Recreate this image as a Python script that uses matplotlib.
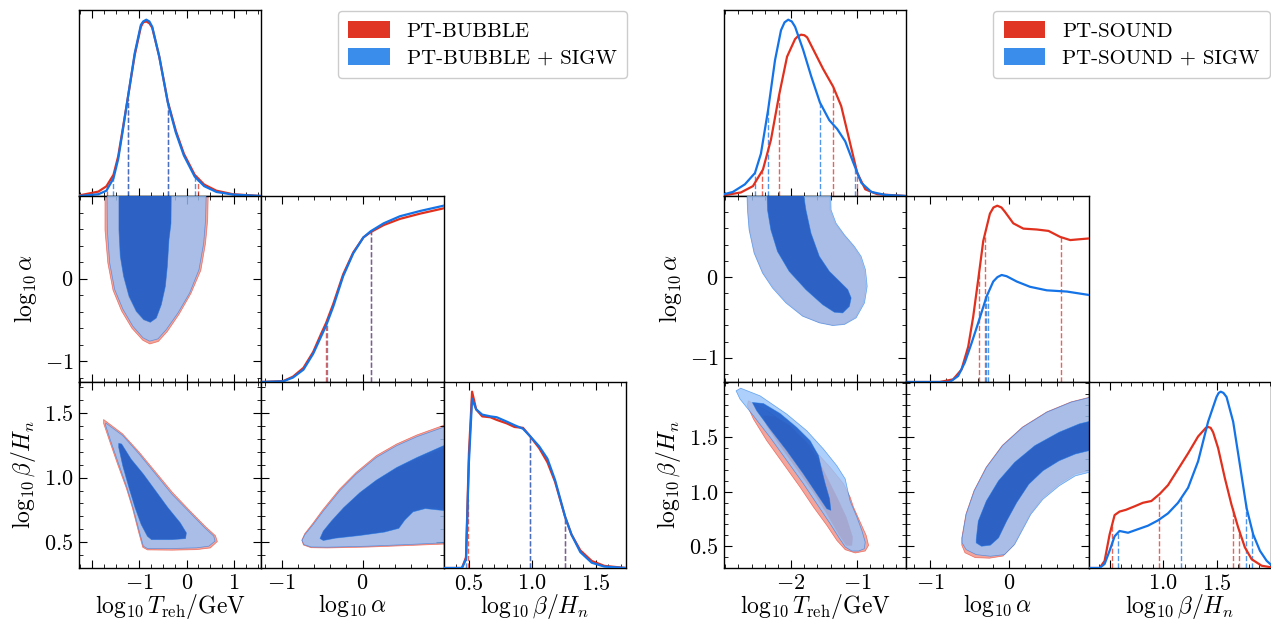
import numpy as np
import matplotlib
matplotlib.use("Agg")
import matplotlib.pyplot as plt
from matplotlib.patches import Patch
from matplotlib.ticker import FixedLocator, MultipleLocator, FixedFormatter, NullFormatter, NullLocator
import warnings
warnings.filterwarnings("ignore")

plt.rcParams.update({
    "font.family": "serif",
    "font.serif": ["cmr10", "DejaVu Serif"],
    "mathtext.fontset": "cm",
    "axes.formatter.use_mathtext": True,
    "axes.linewidth": 1.0,
})

# ---------------- DATA : PT-BUBBLE (left) ----------------
bub_T_x = [-2.28, -1.87, -1.70, -1.55, -1.45, -1.36, -1.25, -1.10, -0.97, -0.92, -0.855, -0.79, -0.73,
           -0.58, -0.40, -0.23, -0.06, 0.17, 0.37, 0.63, 0.98, 1.58]
bub_T_blue = [0.0, 0.01, 0.03, 0.10, 0.21, 0.36, 0.55, 0.81, 0.97, 0.99, 1.0, 0.99, 0.96, 0.79, 0.53,
              0.36, 0.23, 0.11, 0.056, 0.023, 0.008, 0.0]
bub_T_red = [0.003, 0.025, 0.055, 0.12, 0.225, 0.37, 0.55, 0.80, 0.96, 0.985, 0.99, 0.98, 0.955, 0.79,
             0.535, 0.37, 0.24, 0.12, 0.065, 0.03, 0.01, 0.0]
bub_T_dash_red = [-1.68, -1.25, -0.40, 0.24]
bub_T_dash_blue = [-1.55, -1.25, -0.40, 0.17]

bub_a_x = [-1.25, -0.98, -0.86, -0.73, -0.61, -0.51, -0.45, -0.36, -0.24, -0.115, 0.01,
           0.10, 0.26, 0.46, 0.71, 1.0]
bub_a_blue = [0.0, 0.004, 0.025, 0.07, 0.16, 0.26, 0.32, 0.43, 0.60, 0.73, 0.82, 0.855,
              0.90, 0.94, 0.97, 1.0]
bub_a_red = [0.0, 0.005, 0.03, 0.08, 0.17, 0.275, 0.335, 0.445, 0.61, 0.735, 0.82, 0.85,
             0.89, 0.925, 0.955, 0.985]
bub_a_dash_red = [-0.45, 0.10]
bub_a_dash_blue = [-0.44, 0.105]

bub_b_x = [0.30, 0.445, 0.477, 0.50, 0.525, 0.557, 0.605, 0.67, 0.72, 0.80, 0.86, 0.927,
           0.98, 1.055, 1.12, 1.18, 1.26, 1.31, 1.38, 1.47, 1.57, 1.74]
bub_b_blue = [0.0, 0.0, 0.05, 0.6, 0.96, 0.90, 0.87, 0.86, 0.855, 0.83, 0.81, 0.79, 0.75,
              0.69, 0.62, 0.50, 0.29, 0.19, 0.09, 0.03, 0.008, 0.0]
bub_b_red = [0.0, 0.0, 0.06, 0.65, 1.0, 0.90, 0.86, 0.855, 0.84, 0.82, 0.80, 0.795, 0.75,
             0.68, 0.60, 0.49, 0.29, 0.19, 0.10, 0.04, 0.012, 0.0]
bub_b_dash_red = [0.49, 0.98, 1.26]
bub_b_dash_blue = [0.48, 0.98, 1.26]

# 2D credible regions (x, y) : T-alpha
bub_Ta_red95 = [(-1.73, 1.1), (-1.73, 0.59), (-1.67, 0.19), (-1.56, -0.14), (-1.38, -0.39),
                (-1.16, -0.60), (-0.93, -0.745), (-0.78, -0.79), (-0.60, -0.76), (-0.41, -0.64),
                (-0.16, -0.43), (0.09, -0.18), (0.30, 0.10), (0.40, 0.43), (0.445, 0.71), (0.46, 1.1)]
bub_Ta_red68 = [(-1.44, 1.1), (-1.44, 0.59), (-1.41, 0.27), (-1.34, 0.03), (-1.225, -0.22),
                (-1.07, -0.40), (-0.91, -0.50), (-0.77, -0.53), (-0.64, -0.48), (-0.535, -0.31),
                (-0.45, -0.09), (-0.41, 0.15), (-0.38, 0.47), (-0.34, 0.67), (-0.33, 1.1)]
bub_Ta_blue95 = [(-1.687, 1.1), (-1.68, 0.59), (-1.63, 0.19), (-1.525, -0.13), (-1.35, -0.37),
                 (-1.14, -0.575), (-0.925, -0.715), (-0.784, -0.756), (-0.607, -0.728),
                 (-0.431, -0.615), (-0.184, -0.414), (0.063, -0.173), (0.26, 0.108),
                 (0.36, 0.43), (0.40, 0.71), (0.416, 1.1)]
bub_Ta_blue68 = [(-1.433, 1.1), (-1.433, 0.59), (-1.405, 0.27), (-1.334, 0.028), (-1.22, -0.213),
                 (-1.066, -0.394), (-0.911, -0.495), (-0.77, -0.527), (-0.643, -0.475),
                 (-0.537, -0.314), (-0.452, -0.093), (-0.41, 0.148), (-0.375, 0.47),
                 (-0.332, 0.67), (-0.325, 1.1)]
# T-beta
bub_Tb_red95 = [(-1.76, 1.45), (-1.36, 1.34), (-1.0, 1.195), (-0.65, 1.04), (-0.30, 0.885),
                (0.05, 0.75), (0.40, 0.62), (0.61, 0.55), (0.65, 0.505), (0.50, 0.455),
                (0.21, 0.442), (-0.31, 0.438), (-0.83, 0.44), (-0.93, 0.46), (-1.02, 0.58),
                (-1.15, 0.765), (-1.28, 0.92), (-1.46, 1.10), (-1.64, 1.29), (-1.76, 1.42)]
bub_Tb_red68 = [(-1.44, 1.262), (-1.375, 1.257), (-1.175, 1.14), (-0.915, 1.025), (-0.655, 0.895),
                (-0.395, 0.765), (-0.135, 0.648), (-0.005, 0.57), (-0.025, 0.527), (-0.31, 0.519),
                (-0.745, 0.519), (-0.835, 0.545), (-0.965, 0.636), (-1.095, 0.766),
                (-1.225, 0.922), (-1.355, 1.09), (-1.44, 1.232)]
bub_Tb_blue95 = [(-1.716, 1.423), (-1.352, 1.325), (-1.005, 1.182), (-0.658, 1.027),
                 (-0.311, 0.871), (0.036, 0.741), (0.383, 0.611), (0.574, 0.547), (0.60, 0.508),
                 (0.47, 0.469), (0.21, 0.456), (-0.311, 0.451), (-0.831, 0.451), (-0.918, 0.469),
                 (-1.005, 0.585), (-1.135, 0.767), (-1.265, 0.923), (-1.439, 1.104),
                 (-1.612, 1.286), (-1.716, 1.403)]
bub_Tb_blue68 = [(-1.439, 1.265), (-1.378, 1.26), (-1.178, 1.143), (-0.918, 1.027), (-0.658, 0.897),
                 (-0.398, 0.767), (-0.137, 0.65), (-0.007, 0.572), (-0.025, 0.528), (-0.311, 0.52),
                 (-0.745, 0.52), (-0.831, 0.546), (-0.962, 0.637), (-1.092, 0.767),
                 (-1.222, 0.923), (-1.352, 1.091), (-1.439, 1.234)]
# alpha-beta
bub_ab_red95 = [(-0.75, 0.515), (-0.715, 0.565), (-0.615, 0.645), (-0.49, 0.752), (-0.285, 0.91),
                (-0.08, 1.04), (0.17, 1.17), (0.42, 1.26), (0.67, 1.33), (1.0, 1.405), (1.1, 1.415),
                (1.1, 0.47), (1.0, 0.485), (0.572, 0.474), (0.069, 0.462), (-0.434, 0.455),
                (-0.636, 0.457), (-0.73, 0.478)]
bub_ab_red68 = [(-0.525, 0.53), (-0.485, 0.587), (-0.384, 0.665), (-0.233, 0.768), (-0.032, 0.882),
                (0.17, 0.975), (0.421, 1.07), (0.673, 1.14), (1.0, 1.225), (1.1, 1.23),
                (1.1, 0.75), (1.0, 0.76), (0.774, 0.772), (0.623, 0.745), (0.522, 0.68),
                (0.447, 0.614), (0.27, 0.583), (-0.032, 0.556), (-0.334, 0.535), (-0.485, 0.517)]
bub_ab_blue95 = [(-0.747, 0.515), (-0.711, 0.559), (-0.61, 0.637), (-0.485, 0.741), (-0.283, 0.897),
                 (-0.082, 1.026), (0.17, 1.156), (0.421, 1.247), (0.673, 1.317), (1.0, 1.39),
                 (1.1, 1.40), (1.1, 0.48), (1.0, 0.495), (0.572, 0.482), (0.069, 0.469),
                 (-0.434, 0.461), (-0.636, 0.463), (-0.726, 0.482)]
bub_ab_blue68 = [(-0.525, 0.528), (-0.485, 0.585), (-0.384, 0.663), (-0.233, 0.767), (-0.032, 0.884),
                 (0.17, 0.98), (0.421, 1.078), (0.673, 1.156), (1.0, 1.247), (1.1, 1.25),
                 (1.1, 0.74), (1.0, 0.745), (0.774, 0.76), (0.623, 0.735), (0.522, 0.672),
                 (0.447, 0.607), (0.27, 0.578), (-0.032, 0.552), (-0.334, 0.531), (-0.485, 0.513)]

# ---------------- DATA : PT-SOUND (right) ----------------
snd_T_x_blue = [-3.02, -2.886, -2.703, -2.55, -2.459, -2.349, -2.245, -2.154, -2.10, -2.044, -1.99,
                -1.94, -1.818, -1.696, -1.562, -1.42, -1.30, -1.178, -1.056, -0.934, -0.781, -0.568, -0.25]
snd_T_blue = [0.01, 0.023, 0.066, 0.13, 0.24, 0.49, 0.77, 0.94, 0.985, 1.0, 0.99, 0.96, 0.83,
              0.68, 0.53, 0.43, 0.38, 0.31, 0.19, 0.075, 0.023, 0.006, 0.0]
snd_T_x_red = [-3.02, -2.764, -2.58, -2.428, -2.306, -2.184, -2.062, -1.94, -1.90, -1.849, -1.80,
               -1.757, -1.635, -1.513, -1.361, -1.239, -1.117, -0.995, -0.873, -0.69, -0.25]
snd_T_red = [0.004, 0.02, 0.056, 0.15, 0.32, 0.57, 0.79, 0.89, 0.905, 0.915, 0.912, 0.90, 0.81,
             0.72, 0.62, 0.51, 0.32, 0.13, 0.038, 0.01, 0.0]
snd_T_dash_red = [-2.44, -2.18, -1.36, -0.995]
snd_T_dash_blue = [-2.55, -2.35, -1.56, -1.03]

snd_a_x_red = [-1.3, -0.878, -0.709, -0.604, -0.519, -0.456, -0.393, -0.329, -0.245, -0.20, -0.152,
               -0.10, -0.055, 0.05, 0.177, 0.346, 0.494, 0.641, 0.768, 0.894, 1.0]
snd_a_red = [0.0, 0.0, 0.015, 0.07, 0.2, 0.37, 0.58, 0.80, 0.955, 0.99, 1.0, 0.99, 0.965, 0.90,
             0.87, 0.865, 0.857, 0.823, 0.805, 0.81, 0.814]
snd_a_x_blue = [-1.3, -0.751, -0.646, -0.562, -0.477, -0.393, -0.287, -0.203, -0.15, -0.097, -0.034,
                0.093, 0.261, 0.472, 0.726, 1.0]
snd_a_blue = [0.0, 0.0, 0.034, 0.11, 0.22, 0.335, 0.485, 0.57, 0.595, 0.607, 0.60, 0.57, 0.54,
              0.52, 0.513, 0.494]
snd_a_dash_red = [-0.384, -0.31, 0.65]
snd_a_dash_blue = [-0.29, -0.27]

snd_b_x_blue = [0.31, 0.403, 0.45, 0.497, 0.544, 0.59, 0.67, 0.763, 0.857, 0.951, 1.045, 1.139,
                1.233, 1.327, 1.421, 1.50, 1.52, 1.54, 1.565, 1.594, 1.656, 1.719, 1.782, 1.844,
                1.907, 1.97, 2.01]
snd_b_blue = [0.0, 0.0, 0.023, 0.098, 0.18, 0.21, 0.2, 0.22, 0.24, 0.27, 0.31, 0.37, 0.455,
              0.605, 0.83, 0.97, 0.993, 1.0, 0.993, 0.97, 0.83, 0.586, 0.34, 0.19, 0.098, 0.041, 0.019]
snd_b_x_red = [0.31, 0.403, 0.45, 0.497, 0.544, 0.59, 0.65, 0.732, 0.81, 0.889, 0.967, 1.045,
               1.139, 1.233, 1.327, 1.40, 1.421, 1.445, 1.468, 1.515, 1.578, 1.64, 1.703, 1.766,
               1.829, 1.923, 2.01]
snd_b_red = [0.0, 0.0, 0.04, 0.19, 0.30, 0.32, 0.33, 0.35, 0.37, 0.38, 0.42, 0.47, 0.56, 0.65,
             0.746, 0.795, 0.80, 0.795, 0.77, 0.68, 0.51, 0.36, 0.23, 0.117, 0.05, 0.013, 0.004]
snd_b_dash_red = [0.523, 0.958, 1.65, 1.71]
snd_b_dash_blue = [0.576, 1.171, 1.776, 1.835]

# T-alpha
snd_Ta_blue95 = [(-2.674, 1.1), (-1.40, 1.1), (-1.393, 0.828), (-1.317, 0.663), (-1.19, 0.52),
                 (-1.038, 0.376), (-0.936, 0.253), (-0.87, 0.088), (-0.844, -0.117), (-0.885, -0.322),
                 (-1.012, -0.507), (-1.19, -0.589), (-1.368, -0.602), (-1.571, -0.569),
                 (-1.825, -0.487), (-2.08, -0.322), (-2.283, -0.138), (-2.435, 0.047),
                 (-2.563, 0.294), (-2.639, 0.581), (-2.664, 0.828)]
snd_Ta_red95 = [(-2.664, 1.1), (-1.42, 1.1), (-1.41, 0.828), (-1.335, 0.663), (-1.205, 0.52),
                (-1.055, 0.376), (-0.955, 0.253), (-0.89, 0.088), (-0.865, -0.117), (-0.90, -0.315),
                (-1.02, -0.497), (-1.19, -0.58), (-1.368, -0.595), (-1.571, -0.562),
                (-1.82, -0.48), (-2.07, -0.315), (-2.27, -0.132), (-2.425, 0.05),
                (-2.553, 0.296), (-2.629, 0.582), (-2.654, 0.828)]
snd_Ta_blue68 = [(-2.369, 1.1), (-1.826, 1.1), (-1.775, 0.828), (-1.698, 0.54), (-1.571, 0.253),
                 (-1.419, 0.068), (-1.266, -0.055), (-1.139, -0.158), (-1.088, -0.261),
                 (-1.114, -0.364), (-1.216, -0.446), (-1.343, -0.437), (-1.521, -0.343),
                 (-1.775, -0.158), (-2.029, 0.068), (-2.207, 0.314), (-2.308, 0.581), (-2.359, 0.828)]
snd_Ta_red68 = [(-2.36, 1.1), (-1.835, 1.1), (-1.785, 0.828), (-1.708, 0.54), (-1.58, 0.253),
                (-1.428, 0.068), (-1.275, -0.05), (-1.15, -0.15), (-1.10, -0.255),
                (-1.124, -0.355), (-1.222, -0.435), (-1.343, -0.428), (-1.515, -0.335),
                (-1.765, -0.15), (-2.02, 0.075), (-2.198, 0.318), (-2.298, 0.583), (-2.349, 0.828)]
# T-beta
snd_Tb_blue95 = [(-2.837, 1.929), (-2.766, 1.953), (-2.472, 1.883), (-2.066, 1.715), (-1.762, 1.562),
                 (-1.509, 1.394), (-1.306, 1.241), (-1.178, 1.119), (-1.128, 0.982), (-1.103, 0.914),
                 (-1.001, 0.768), (-0.925, 0.645), (-0.874, 0.538), (-0.889, 0.477), (-0.975, 0.456),
                 (-1.077, 0.456), (-1.178, 0.493), (-1.28, 0.585), (-1.407, 0.707), (-1.61, 0.89),
                 (-1.813, 1.074), (-2.066, 1.288), (-2.32, 1.501), (-2.574, 1.70), (-2.777, 1.853)]
snd_Tb_red95 = [(-2.65, 1.837), (-2.32, 1.73), (-1.965, 1.562), (-1.661, 1.394), (-1.407, 1.226),
                (-1.204, 1.074), (-1.103, 0.952), (-1.052, 0.86), (-0.95, 0.722), (-0.859, 0.60),
                (-0.823, 0.508), (-0.874, 0.456), (-1.026, 0.438), (-1.178, 0.468), (-1.306, 0.554),
                (-1.458, 0.692), (-1.661, 0.86), (-1.864, 1.043), (-2.117, 1.257), (-2.371, 1.471),
                (-2.574, 1.67), (-2.665, 1.792)]
snd_Tb_blue68 = [(-2.589, 1.822), (-2.421, 1.812), (-2.167, 1.72), (-1.914, 1.592), (-1.711, 1.47),
                 (-1.584, 1.333), (-1.533, 1.196), (-1.482, 1.074), (-1.416, 0.936), (-1.396, 0.83),
                 (-1.457, 0.845), (-1.61, 0.982), (-1.813, 1.165), (-2.066, 1.379), (-2.32, 1.578),
                 (-2.523, 1.746)]
snd_Tb_red68 = [(-2.421, 1.70), (-2.244, 1.691), (-2.015, 1.608), (-1.787, 1.47), (-1.61, 1.318),
                (-1.457, 1.135), (-1.306, 0.952), (-1.163, 0.768), (-1.067, 0.585), (-1.077, 0.508),
                (-1.163, 0.508), (-1.28, 0.615), (-1.457, 0.799), (-1.661, 0.997), (-1.914, 1.211),
                (-2.167, 1.425), (-2.371, 1.608)]
# alpha-beta
snd_ab_blue95 = [(-0.596, 0.577), (-0.545, 0.793), (-0.443, 1.009), (-0.29, 1.224), (-0.086, 1.425),
                 (0.169, 1.594), (0.475, 1.733), (0.781, 1.825), (1.0, 1.865), (1.1, 1.87),
                 (1.1, 1.17), (1.0, 1.178), (0.832, 1.147), (0.628, 1.055), (0.424, 0.932),
                 (0.271, 0.793), (0.169, 0.654), (0.067, 0.516), (-0.061, 0.423), (-0.239, 0.408),
                 (-0.418, 0.423), (-0.545, 0.469), (-0.596, 0.531)]
snd_ab_red95 = [(-0.60, 0.577), (-0.548, 0.795), (-0.446, 1.011), (-0.293, 1.226), (-0.089, 1.427),
                (0.166, 1.596), (0.472, 1.735), (0.778, 1.827), (1.0, 1.868), (1.1, 1.873),
                (1.1, 1.19), (1.0, 1.195), (0.832, 1.165), (0.628, 1.072), (0.424, 0.948),
                (0.265, 0.80), (0.16, 0.655), (0.055, 0.51), (-0.08, 0.41), (-0.25, 0.39),
                (-0.43, 0.395), (-0.56, 0.44), (-0.60, 0.51)]
snd_ab_blue68 = [(-0.418, 0.562), (-0.392, 0.731), (-0.29, 0.916), (-0.137, 1.101), (0.067, 1.271),
                 (0.322, 1.425), (0.628, 1.548), (0.883, 1.625), (1.0, 1.646), (1.1, 1.65),
                 (1.1, 1.37), (1.0, 1.378), (0.832, 1.348), (0.628, 1.286), (0.424, 1.194),
                 (0.245, 1.07), (0.092, 0.901), (-0.035, 0.731), (-0.137, 0.577), (-0.239, 0.51),
                 (-0.351, 0.50), (-0.418, 0.531)]
snd_ab_red68 = [(-0.41, 0.57), (-0.385, 0.735), (-0.283, 0.918), (-0.13, 1.10), (0.072, 1.268),
                (0.327, 1.42), (0.63, 1.54), (0.883, 1.615), (1.0, 1.635), (1.1, 1.64),
                (1.1, 1.38), (1.0, 1.388), (0.832, 1.358), (0.628, 1.295), (0.424, 1.203),
                (0.25, 1.08), (0.098, 0.91), (-0.03, 0.74), (-0.13, 0.585), (-0.235, 0.52),
                (-0.345, 0.51), (-0.41, 0.54)]

bub_legend = ["PT-BUBBLE", "PT-BUBBLE + SIGW"]
snd_legend = ["PT-SOUND", "PT-SOUND + SIGW"]

param_labels = [r"$\log_{10}T_{\rm reh}/{\rm GeV}$", r"$\log_{10}\alpha$", r"$\log_{10}\beta/H_n$"]

bub_ranges = [(-2.28, 1.58), (-1.25, 1.0), (0.30, 1.74)]
snd_ranges = [(-3.02, -0.25), (-1.30, 1.0), (0.30, 2.01)]

bub_major = [[-2, -1, 0, 1], [-1, 0], [0.5, 1.0, 1.5]]
bub_xlab = [["", "$-1$", "$0$", "$1$"], ["$-1$", "$0$"], ["$0.5$", "$1.0$", "$1.5$"]]
bub_ylab = [None, ["$-1$", "$0$"], ["$0.5$", "$1.0$", "$1.5$"]]
bub_minor = [0.25, 0.2, 0.1]

snd_major = [[-2, -1], [-1, 0], [0.5, 1.0, 1.5]]
snd_xlab = [["$-2$", "$-1$"], ["$-1$", "$0$"], ["", "$1.0$", "$1.5$"]]
snd_ylab = [None, ["$-1$", "$0$"], ["$0.5$", "$1.0$", "$1.5$"]]
snd_minor = [0.2, 0.2, 0.1]

# ---------------- STYLE ----------------
RED_LINE = "#E0301E"
BLUE_LINE = "#1473E6"
RED95, RED68 = "#F3A59C", "#DD3B2C"
BLUE95, BLUE68 = "#97C4FA", "#1050C2"
LEG_RED, LEG_BLUE = "#E03424", "#3A8DEA"

W, H = 1271, 621
CW, RH = 182.3, 186.0
Y0 = 10.0

fig = plt.figure(figsize=(W / 100, H / 100), dpi=100)


def rect(x0, y0, w, h):
    return [x0 / W, 1 - (y0 + h) / H, w / W, h / H]


def style_axis(axis, major, labels, minor, show):
    axis.set_major_locator(FixedLocator(major))
    if show:
        axis.set_major_formatter(FixedFormatter(labels))
    else:
        axis.set_major_formatter(NullFormatter())
    axis.set_minor_locator(MultipleLocator(minor))


def corner(x0, ranges, major, xlab, ylab, minor, oned, twod, legend_labels, legend_right):
    for i in range(3):
        for j in range(i + 1):
            ax = fig.add_axes(rect(x0 + j * CW, Y0 + i * RH, CW, RH))
            ax.set_xlim(*ranges[j])
            style_axis(ax.xaxis, major[j], xlab[j], minor[j], i == 2)
            ax.tick_params(which="both", direction="in", top=True, right=True, labelsize=16)
            ax.tick_params(which="major", length=6, width=0.8, pad=4)
            ax.tick_params(which="minor", length=3, width=0.6)
            if i == j:
                xr, yr, xb, yb, dr, db = oned[i]
                ax.set_ylim(0, 1.055)
                ax.yaxis.set_major_locator(NullLocator())
                ax.yaxis.set_minor_locator(NullLocator())
                ax.vlines(dr, 0, np.interp(dr, xr, yr), colors=RED_LINE, linestyles="--",
                          lw=1.0, alpha=0.75, zorder=2)
                ax.vlines(db, 0, np.interp(db, xb, yb), colors=BLUE_LINE, linestyles="--",
                          lw=1.0, alpha=0.75, zorder=2)
                ax.plot(xr, yr, color=RED_LINE, lw=1.6, zorder=3, solid_joinstyle="round")
                ax.plot(xb, yb, color=BLUE_LINE, lw=1.6, zorder=4, solid_joinstyle="round")
            else:
                ax.set_ylim(*ranges[i])
                style_axis(ax.yaxis, major[i], ylab[i], minor[i], j == 0)
                r95, r68, b95, b68 = twod[(i, j)]
                for poly, fc, ec, a, z in [(r95, RED95, RED_LINE, 1.0, 1), (r68, RED68, RED_LINE, 1.0, 2),
                                           (b95, BLUE95, BLUE_LINE, 0.8, 3), (b68, BLUE68, BLUE_LINE, 0.8, 4)]:
                    p = np.array(poly)
                    ax.fill(p[:, 0], p[:, 1], facecolor=fc, edgecolor="none", alpha=a, zorder=z)
                    ax.fill(p[:, 0], p[:, 1], facecolor="none", edgecolor=ec, lw=0.5,
                            alpha=0.6, zorder=z)
            if i == 2:
                ax.set_xlabel(param_labels[j], fontsize=17, labelpad=-1)
            if j == 0 and i > 0:
                ax.set_ylabel(param_labels[i], fontsize=17, labelpad=4)
    handles = [Patch(facecolor=LEG_RED, edgecolor="none"), Patch(facecolor=LEG_BLUE, edgecolor="none")]
    fig.legend(handles, legend_labels, loc="upper right",
               bbox_to_anchor=(legend_right / W, 1 - 11 / H), borderaxespad=0.0, fontsize=15,
               handlelength=2.0, handleheight=0.85, borderpad=0.5, labelspacing=0.35,
               handletextpad=0.8, frameon=True, fancybox=True, edgecolor="#cccccc", framealpha=1)


bub_oned = [
    (bub_T_x, bub_T_red, bub_T_x, bub_T_blue, bub_T_dash_red, bub_T_dash_blue),
    (bub_a_x, bub_a_red, bub_a_x, bub_a_blue, bub_a_dash_red, bub_a_dash_blue),
    (bub_b_x, bub_b_red, bub_b_x, bub_b_blue, bub_b_dash_red, bub_b_dash_blue),
]
bub_twod = {
    (1, 0): (bub_Ta_red95, bub_Ta_red68, bub_Ta_blue95, bub_Ta_blue68),
    (2, 0): (bub_Tb_red95, bub_Tb_red68, bub_Tb_blue95, bub_Tb_blue68),
    (2, 1): (bub_ab_red95, bub_ab_red68, bub_ab_blue95, bub_ab_blue68),
}
snd_oned = [
    (snd_T_x_red, snd_T_red, snd_T_x_blue, snd_T_blue, snd_T_dash_red, snd_T_dash_blue),
    (snd_a_x_red, snd_a_red, snd_a_x_blue, snd_a_blue, snd_a_dash_red, snd_a_dash_blue),
    (snd_b_x_red, snd_b_red, snd_b_x_blue, snd_b_blue, snd_b_dash_red, snd_b_dash_blue),
]
snd_twod = {
    (1, 0): (snd_Ta_red95, snd_Ta_red68, snd_Ta_blue95, snd_Ta_blue68),
    (2, 0): (snd_Tb_red95, snd_Tb_red68, snd_Tb_blue95, snd_Tb_blue68),
    (2, 1): (snd_ab_red95, snd_ab_red68, snd_ab_blue95, snd_ab_blue68),
}

corner(79, bub_ranges, bub_major, bub_xlab, bub_ylab, bub_minor, bub_oned, bub_twod, bub_legend, 627)
corner(724, snd_ranges, snd_major, snd_xlab, snd_ylab, snd_minor, snd_oned, snd_twod, snd_legend, 1270)

fig.savefig("out.png", dpi=100)
